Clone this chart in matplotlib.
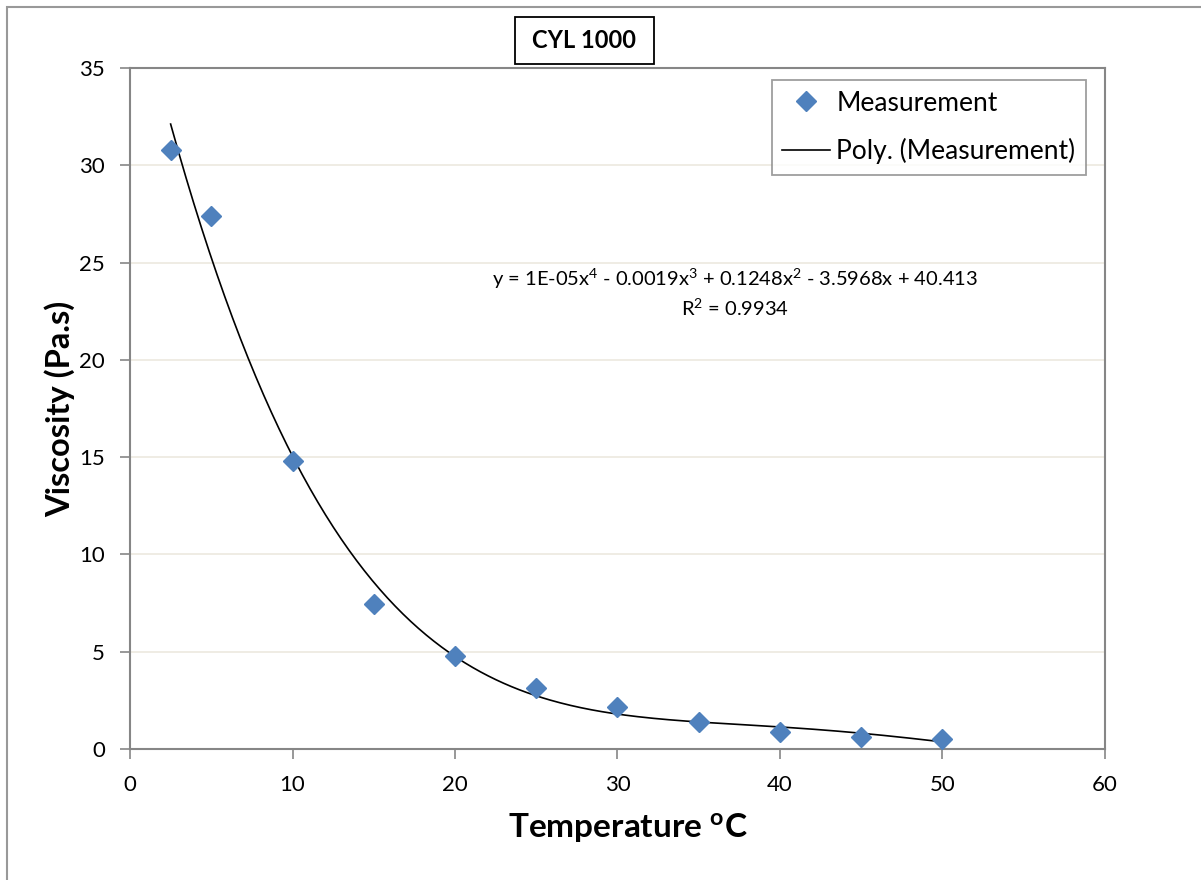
import numpy as np
import matplotlib.pyplot as plt
from matplotlib.patches import Rectangle
from matplotlib.lines import Line2D

temperature = [2.5, 5, 10, 15, 20, 25, 30, 35, 40, 45, 50]
viscosity = [30.8, 27.4, 14.8, 7.45, 4.8, 3.13, 2.17, 1.4, 0.88, 0.63, 0.52]

x_ticks = [0, 10, 20, 30, 40, 50, 60]
y_ticks = [0, 5, 10, 15, 20, 25, 30, 35]

equation = "y = 1E-05x$^{4}$ - 0.0019x$^{3}$ + 0.1248x$^{2}$ - 3.5968x + 40.413"
r2_text = "R$^{2}$ = 0.9934"

plt.rcParams["font.family"] = ["Lato", "DejaVu Sans"]
plt.rcParams["mathtext.fontset"] = "custom"
plt.rcParams["mathtext.rm"] = "Lato"
plt.rcParams["mathtext.bf"] = "Lato:bold"
plt.rcParams["mathtext.default"] = "regular"

W, H = 1201, 880
fig = plt.figure(figsize=(W / 100, H / 100), dpi=100)

# outer chart border (runs off the right and bottom of the picture)
fig.add_artist(Rectangle((7 / W, -0.05), 1.1, 1 - 7 / H + 0.05, transform=fig.transFigure,
                         fill=False, edgecolor="#999999", linewidth=1.5))

left, right, top, bottom = 130, 1105, 68, 749
ax = fig.add_axes([left / W, 1 - bottom / H, (right - left) / W, (bottom - top) / H])

# 4th order polynomial trend line, like Excel's
coef = np.polyfit(temperature, viscosity, 4)
xs = np.linspace(min(temperature), max(temperature), 300)
ax.plot(xs, np.polyval(coef, xs), color="black", linewidth=1.2, zorder=3)

ax.plot(temperature, viscosity, linestyle="none", marker="D", markersize=10,
        color="#4F81BD", markeredgecolor="#4F81BD", zorder=4)

ax.set_xlim(0, 60)
ax.set_ylim(0, 35)
ax.set_xticks(x_ticks)
ax.set_yticks(y_ticks)
ax.yaxis.grid(True, color="#ECE9DF", linewidth=1.2)
ax.set_axisbelow(True)

for sp in ax.spines.values():
    sp.set_color("#868686")
    sp.set_linewidth(1.5)

ax.tick_params(axis="both", direction="out", length=7, width=1.2, color="#868686",
               labelsize=16, labelcolor="black")
ax.tick_params(axis="x", pad=12)
ax.tick_params(axis="y", pad=11)

ax.set_xlabel("Temperature $^{\\mathbf{o}}$C", fontsize=24, fontweight="bold")
ax.set_ylabel("Viscosity (Pa.s)", fontsize=23.5, fontweight="bold")
ax.xaxis.set_label_coords((628 - left) / (right - left), (bottom - 811) / (bottom - top))
ax.yaxis.set_label_coords((75 - left) / (right - left), 0.5)

ax.text(0.621, 0.69, equation, transform=ax.transAxes, ha="center", va="center", fontsize=14.5)
ax.text(0.621, 0.647, r2_text, transform=ax.transAxes, ha="center", va="center", fontsize=14.5)

# title box
fig.text(584 / W, 1 - 41 / H, "CYL 1000", ha="center", va="center", fontsize=17,
         fontweight="bold")
fig.add_artist(Rectangle((515 / W, 1 - 64 / H), (654 - 515) / W, (64 - 17) / H,
                         transform=fig.transFigure, fill=False, edgecolor="black", linewidth=1.3))

handles = [
    Line2D([], [], linestyle="none", marker="D", markersize=10, color="#4F81BD"),
    Line2D([], [], color="black", linewidth=1.2),
]
leg = ax.legend(handles, ["Measurement", "Poly. (Measurement)"], loc="upper right",
                bbox_to_anchor=((1086 - left) / (right - left), (bottom - 80) / (bottom - top)),
                fontsize=19, frameon=True, fancybox=False, borderpad=0.4,
                handlelength=1.8, handletextpad=0.25, labelspacing=0.85, borderaxespad=0)
leg.get_frame().set_edgecolor("#868686")
leg.get_frame().set_linewidth(1.3)

fig.savefig("out.png", dpi=100)
